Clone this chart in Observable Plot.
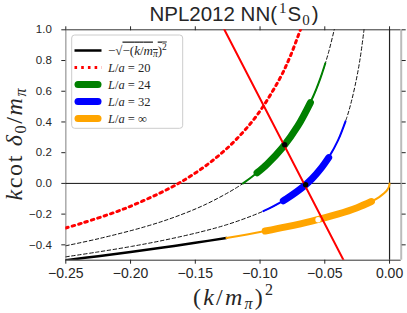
<!DOCTYPE html>
<html><head><meta charset="utf-8">
<script src="https://cdn.jsdelivr.net/npm/d3@7"></script>
<script src="https://cdn.jsdelivr.net/npm/@observablehq/plot@0.6"></script>
<style>body{margin:0;background:#fff}</style>
</head><body><div id="chart"></div>
<script>
const xDomain = [-0.25, 0.009];
const yDomain = [-0.5, 1.0];
const xTicks = [-0.25, -0.20, -0.15, -0.10, -0.05, 0.00];
const yTicks = [-0.4, -0.2, 0.0, 0.2, 0.4, 0.6, 0.8, 1.0];

// L/a = 20 (red dotted)
const l20X = [-0.2500, -0.2379, -0.2039, -0.1700, -0.1530, -0.1360, -0.1190, -0.1020, -0.0850, -0.0765, -0.0680];
const l20Y = [-0.290, -0.260, -0.162, -0.032, 0.051, 0.153, 0.281, 0.448, 0.679, 0.831, 1.020];

// L/a = 24 full curve (black dashed)
const l24X = [-0.2500, -0.2242, -0.1888, -0.1652, -0.1416, -0.1180, -0.1062, -0.0944, -0.0826, -0.0708, -0.0590, -0.0531, -0.0472, -0.0413];
const l24Y = [-0.406, -0.359, -0.282, -0.217, -0.135, -0.027, 0.043, 0.127, 0.234, 0.374, 0.566, 0.692, 0.850, 1.051];
// L/a = 24 data (green)
const g24X = [-0.1132, -0.1062, -0.0944, -0.0826, -0.0708, -0.0590, -0.0531, -0.0496];
const g24Y = [0.000, 0.043, 0.127, 0.234, 0.374, 0.566, 0.692, 0.782];
const g24ThickX = [-0.1023, -0.0944, -0.0826, -0.0708, -0.0611];
const g24ThickY = [0.069, 0.127, 0.234, 0.374, 0.526];

// L/a = 32 full curve (black dashed)
const l32X = [-0.2500, -0.2257, -0.1991, -0.1726, -0.1460, -0.1261, -0.1062, -0.0929, -0.0797, -0.0664, -0.0597, -0.0531, -0.0465, -0.0398, -0.0332, -0.0299, -0.0266, -0.0232, -0.0199, -0.0183];
const l32Y = [-0.478, -0.447, -0.410, -0.367, -0.316, -0.270, -0.211, -0.163, -0.101, -0.020, 0.032, 0.096, 0.176, 0.280, 0.424, 0.519, 0.637, 0.788, 0.988, 1.115];
// L/a = 32 data (blue)
const b32X = [-0.0975, -0.0929, -0.0797, -0.0664, -0.0597, -0.0531, -0.0465, -0.0398, -0.0340];
const b32Y = [-0.181, -0.163, -0.101, -0.020, 0.032, 0.096, 0.176, 0.280, 0.404];
const b32ThickX = [-0.0820, -0.0797, -0.0664, -0.0597, -0.0531, -0.0470];
const b32ThickY = [-0.113, -0.101, -0.020, 0.032, 0.096, 0.168];

// L/a = infinity (orange)
const infX = [-0.126, -0.110, -0.096, -0.080, -0.060, -0.040, -0.025, -0.014, -0.008, -0.004, -0.0015, -0.0004, 0.0];
const infY = [-0.355, -0.332, -0.310, -0.283, -0.245, -0.200, -0.158, -0.118, -0.089, -0.063, -0.039, -0.020, 0.0];
const infThickX = [-0.096, -0.080, -0.060, -0.040, -0.025, -0.014];
const infThickY = [-0.310, -0.283, -0.245, -0.200, -0.158, -0.118];

// -sqrt(-(k/m)^2) (black solid)
const boundX = [-0.250, -0.225, -0.200, -0.175, -0.150, -0.126];
const boundY = [-0.500, -0.474, -0.447, -0.418, -0.387, -0.355];

// red straight line
const redLineX = [-0.1275, -0.0355];
const redLineY = [1.0, -0.5];

// intersection dots
const blackDotX = [-0.0810, -0.0648];
const blackDotY = [0.252, -0.009];
const whiteDotX = [-0.0552];
const whiteDotY = [-0.237];

const legendLabels = ["L/a = 20", "L/a = 24", "L/a = 32", "L/a = ∞"];

const rows = (xs, ys) => xs.map((x, i) => ({x, y: ys[i]}));
const lineOpts = (o) => Object.assign({x: "x", y: "y", curve: "catmull-rom", clip: true}, o);

const chart = Plot.plot({
  width: 407, height: 313,
  marginLeft: 65.3, marginRight: 6.3, marginTop: 29.3, marginBottom: 53.3,
  x: {domain: xDomain, label: null},
  y: {domain: yDomain, label: null},
  style: {background: "#fff", fontFamily: "'Liberation Sans', Arial, sans-serif", color: "#262626"},
  marks: [
    Plot.ruleY([yDomain[1]], {stroke: "#333", strokeWidth: 1}),
    Plot.ruleY([yDomain[0]], {stroke: "#333", strokeWidth: 1}),
    Plot.ruleX([xDomain[0]], {stroke: "#aaa", strokeWidth: 1.5}),
    Plot.ruleX([xDomain[1]], {stroke: "#bbb", strokeWidth: 2}),
    Plot.ruleY([0], {stroke: "#111", strokeWidth: 1}),
    Plot.ruleX([0], {stroke: "#222", strokeWidth: 1.2}),
    Plot.line(rows(l24X, l24Y), lineOpts({stroke: "#111", strokeWidth: 1, strokeDasharray: "3.5,2.5"})),
    Plot.line(rows(l32X, l32Y), lineOpts({stroke: "#111", strokeWidth: 1, strokeDasharray: "3.5,2.5"})),
    Plot.line(rows(l20X, l20Y), lineOpts({stroke: "#ff0000", strokeWidth: 3, strokeDasharray: "2.6,4.1"})),
    Plot.line(rows(boundX, boundY), lineOpts({stroke: "#000", strokeWidth: 2.5})),
    Plot.line(rows(infX, infY), lineOpts({stroke: "#ffa500", strokeWidth: 2})),
    Plot.line(rows(infThickX, infThickY), lineOpts({stroke: "#ffa500", strokeWidth: 7, strokeLinecap: "round"})),
    Plot.line(rows(g24X, g24Y), lineOpts({stroke: "#008000", strokeWidth: 2})),
    Plot.line(rows(g24ThickX, g24ThickY), lineOpts({stroke: "#008000", strokeWidth: 7, strokeLinecap: "round"})),
    Plot.line(rows(b32X, b32Y), lineOpts({stroke: "#0000ff", strokeWidth: 2})),
    Plot.line(rows(b32ThickX, b32ThickY), lineOpts({stroke: "#0000ff", strokeWidth: 7, strokeLinecap: "round"})),
    Plot.line(rows(redLineX, redLineY), {x: "x", y: "y", stroke: "#ff0000", strokeWidth: 2, clip: true}),
    Plot.dot(rows(blackDotX, blackDotY), {x: "x", y: "y", r: 2.7, fill: "#000", stroke: "none"}),
    Plot.dot(rows(whiteDotX, whiteDotY), {x: "x", y: "y", r: 2.7, fill: "#fff", stroke: "none"}),
    Plot.axisX({ticks: xTicks, tickFormat: d3.format(".2f"), tickSize: 4, tickPadding: 4, fontSize: 14, label: null}),
    Plot.axisX({anchor: "top", ticks: xTicks, tickFormat: () => "", tickSize: 4, label: null}),
    Plot.axisY({ticks: yTicks, tickFormat: d3.format(".1f"), tickSize: 4, tickPadding: 10, fontSize: 11.5, label: null}),
    Plot.axisY({anchor: "right", ticks: yTicks, tickFormat: () => "", tickSize: 4, label: null})
  ]
});
document.getElementById("chart").appendChild(chart);

const svg = d3.select(chart);
const serif = "'Liberation Serif', 'Times New Roman', serif";
const ink = "#262626";

// Title
const title = svg.append("text").attr("x", 234).attr("y", 21).attr("text-anchor", "middle")
  .attr("fill", ink).style("font-family", "'Liberation Sans', Arial, sans-serif").style("font-size", "20.5px");
title.append("tspan").text("NPL2012 NN(");
title.append("tspan").attr("dx", 2).attr("dy", -8).style("font-family", serif).style("font-size", "15px").text("1");
title.append("tspan").attr("dx", 1).attr("dy", 8).text("S");
title.append("tspan").attr("dx", 1).attr("dy", 4).style("font-family", serif).style("font-size", "15px").text("0");
title.append("tspan").attr("dx", 2).attr("dy", -4).text(")");

// Y label
const yl = svg.append("text").attr("transform", "translate(22,144.5) rotate(-90)").attr("text-anchor", "middle")
  .attr("fill", ink).style("font-family", serif).style("font-size", "24px")
  .attr("textLength", 112).attr("lengthAdjust", "spacing");
yl.append("tspan").style("font-style", "italic").text("k");
yl.append("tspan").text("cot ");
yl.append("tspan").style("font-style", "italic").text("δ");
yl.append("tspan").attr("dy", 4).style("font-size", "16px").text("0");
yl.append("tspan").attr("dy", -4).text("/");
yl.append("tspan").style("font-style", "italic").text("m");
yl.append("tspan").attr("dy", 4).style("font-size", "16px").style("font-style", "italic").text("π");

// X label
const xl = svg.append("text").attr("x", 233).attr("y", 305).attr("text-anchor", "middle")
  .attr("fill", ink).style("font-family", serif).style("font-size", "24px")
  .attr("textLength", 80).attr("lengthAdjust", "spacing");
xl.append("tspan").text("(");
xl.append("tspan").style("font-style", "italic").text("k");
xl.append("tspan").text("/");
xl.append("tspan").style("font-style", "italic").text("m");
xl.append("tspan").attr("dy", 4).style("font-size", "16px").style("font-style", "italic").text("π");
xl.append("tspan").attr("dy", -4).text(")");
xl.append("tspan").attr("dy", -10).style("font-size", "16px").text("2");

// Legend
const lg = svg.append("g").attr("text-anchor", "start");
lg.append("rect").attr("x", 71.7).attr("y", 35).attr("width", 111).attr("height", 93.3).attr("rx", 3)
  .attr("fill", "#fff").attr("fill-opacity", 0.85).attr("stroke", "#cccccc").attr("stroke-width", 1);
const rowsY = [50.5, 67.5, 84.5, 101.5, 118.5];
const handles = [
  {stroke: "#000", w: 2.5, dash: null, cap: "butt"},
  {stroke: "#ff0000", w: 3, dash: "2.6,4.1", cap: "butt"},
  {stroke: "#008000", w: 7, dash: null, cap: "round"},
  {stroke: "#0000ff", w: 7, dash: null, cap: "round"},
  {stroke: "#ffa500", w: 7, dash: null, cap: "round"}
];
handles.forEach((h, i) => {
  const inset = h.cap === "round" ? 3.5 : 0;
  const l = lg.append("line").attr("x1", 74.5 + inset).attr("x2", 101.5 - inset).attr("y1", rowsY[i]).attr("y2", rowsY[i])
    .attr("stroke", h.stroke).attr("stroke-width", h.w).attr("stroke-linecap", h.cap);
  if (h.dash) l.attr("stroke-dasharray", h.dash);
});
const lt0 = lg.append("text").attr("x", 108).attr("y", rowsY[0] + 4).attr("fill", ink).attr("text-anchor", "start")
  .style("font-family", serif).style("font-size", "13px");
lt0.append("tspan").text("−√");
const under = lt0.append("tspan").style("text-decoration", "overline");
under.append("tspan").text("−(");
under.append("tspan").style("font-style", "italic").text("k");
under.append("tspan").text("/");
under.append("tspan").style("font-style", "italic").text("m");
under.append("tspan").attr("dy", 2.5).style("font-size", "9.5px").style("font-style", "italic").text("π");
under.append("tspan").attr("dy", -2.5).text(")");
under.append("tspan").attr("dy", -5).style("font-size", "9.5px").text("2");

legendLabels.forEach((lab, i) => {
  const t = lg.append("text").attr("x", 108).attr("y", rowsY[i + 1] + 4).attr("fill", ink).attr("text-anchor", "start")
    .style("font-family", serif).style("font-size", "12.5px");
  const [lhs, rhs] = lab.split(" = ");
  const [a, b] = lhs.split("/");
  t.append("tspan").style("font-style", "italic").text(a);
  t.append("tspan").text("/");
  t.append("tspan").style("font-style", "italic").text(b);
  t.append("tspan").text(" = " + rhs);
});
</script>
</body></html>
